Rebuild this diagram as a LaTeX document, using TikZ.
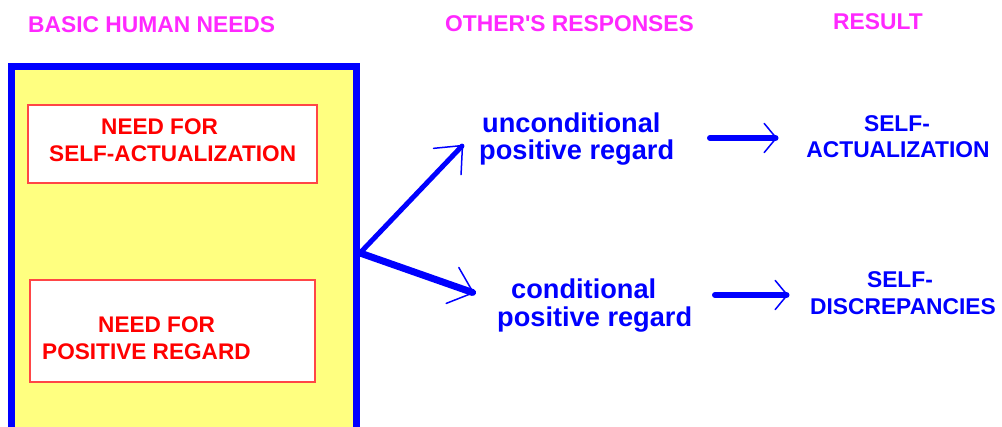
\documentclass[tikz,border=0pt]{standalone}
\usepackage{fontspec}
\setmainfont{Liberation Sans}
\usetikzlibrary{arrows.meta}
\definecolor{hdr}{RGB}{255,40,255}
\definecolor{nred}{RGB}{255,0,0}
\definecolor{bred}{RGB}{255,70,70}
\definecolor{pyel}{RGB}{255,255,128}
\definecolor{pblue}{RGB}{0,0,255}
\begin{document}
\begin{tikzpicture}[x=1pt,y=-1pt,
  hdrtxt/.style={font=\fontsize{22.8}{26}\selectfont\bfseries, text=hdr, inner sep=0pt, anchor=base west},
  redtxt/.style={font=\fontsize{22.6}{26}\selectfont\bfseries, text=nred, inner sep=0pt, anchor=base west},
  resptxt/.style={font=\fontsize{27.2}{30}\selectfont\bfseries, text=pblue, inner sep=0pt, anchor=base west},
  restxt/.style={font=\fontsize{22.8}{26}\selectfont\bfseries, text=pblue, inner sep=0pt, anchor=base},
  redbox/.style={draw=bred, fill=white, line width=1.5pt, inner sep=0pt, outer sep=0pt, anchor=north west},
  bigbox/.style={draw=pblue, fill=pyel, line width=7pt, inner sep=0pt, outer sep=0pt, anchor=north west},
  splitarrow/.style={draw=pblue, line cap=round, -{Straight Barb[length=22pt,width=38pt,line width=1.5pt,round]}},
  resarrow/.style={draw=pblue, line cap=round, line width=6pt, -{Straight Barb[length=12pt,width=29pt,line width=1.5pt,round]}}
]
\useasboundingbox (0,0) rectangle (1002,427);
\begin{scope}
\clip (0,0) rectangle (1002,427);
% big box
\node[bigbox, minimum width=345pt, minimum height=400pt] (needs) at (11.5,67) {};
\end{scope}
% red boxes
\node[redbox, minimum width=289pt, minimum height=78pt] (box1) at (28,105) {};
\node[redbox, minimum width=285pt, minimum height=102pt] (box2) at (30,280) {};
% headers
\node[hdrtxt] (h1) at (28,33) {BASIC HUMAN NEEDS};
\node[hdrtxt] (h2) at (445,32) {OTHER\textquotesingle S RESPONSES};
\node[hdrtxt] (h3) at (833,30) {RESULT};
% red texts
\node[redtxt] (n1a) at (101,135) {NEED FOR};
\node[redtxt] (n1b) at (49,162) {SELF-ACTUALIZATION};
\node[redtxt] (n2a) at (98,333) {NEED FOR};
\node[redtxt] (n2b) at (42,360) {POSITIVE REGARD};
% responses
\node[resptxt] (u1) at (482,133) {unconditional};
\node[resptxt] (u2) at (479,160) {positive regard};
\node[resptxt] (c1) at (511,299) {conditional};
\node[resptxt] (c2) at (497,327) {positive regard};
% results
\node[restxt] (r1a) at (897,132) {SELF-};
\node[restxt] (r1b) at (898,158) {ACTUALIZATION};
\node[restxt] (r2a) at (900,288) {SELF-};
\node[restxt] (r2b) at (903,315) {DISCREPANCIES};
% arrows
\coordinate (split) at (360,253);
\coordinate (tipU) at (463,145);
\coordinate (tipL) at (474,293);
\coordinate (ra1) at (710,138);
\coordinate (ra1e) at (777,138);
\coordinate (ra2) at (715,295);
\coordinate (ra2e) at (788,295);
\draw[splitarrow, line width=5pt] (split) -- (tipU);
\draw[splitarrow, line width=7pt] (split) -- (tipL);
\draw[resarrow] (ra1) -- (ra1e);
\draw[resarrow] (ra2) -- (ra2e);
\end{tikzpicture}
\end{document}
